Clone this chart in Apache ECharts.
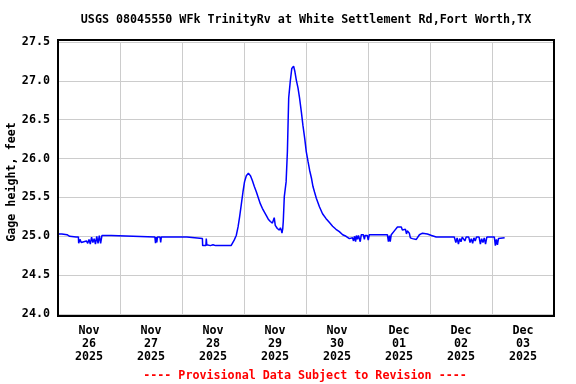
<!DOCTYPE html>
<html>
<head>
<meta charset="utf-8">
<script src="https://cdn.jsdelivr.net/npm/echarts@6/dist/echarts.min.js"></script>
<style>
html,body{margin:0;padding:0;background:#fff;}
#chart{width:576px;height:384px;}
</style>
</head>
<body>
<div id="chart"></div>
<script>
// Hours after 2025-11-26 00:00 (local)
var hours = [
0,1.5,2.0,3.5,4.5,7.0,7.9,8.0,8.5,9.0,9.5,10.0,10.5,11.0,11.5,12.0,12.5,13.0,13.5,14.0,14.5,15.0,15.5,16.0,16.5,17.0,
20.6,20.7,37.5,37.75,38.0,38.25,38.5,39.5,39.75,40.0,49.9,50.0,55.9,56.0,57.25,57.4,57.6,59.0,60.0,61.0,62.5,63.0,64.0,65.5,66.0,67.0,67.6,
68.2,69.0,69.7,70.3,71.0,71.6,72.2,72.9,73.7,74.5,75.2,76.0,76.8,77.5,78.3,79.1,79.9,80.6,81.4,82.2,83.0,83.4,83.7,84.1,84.5,84.9,85.3,85.7,86.1,86.5,86.7,87.0,87.2,
87.6,88.3,88.8,89.3,89.9,90.5,91.2,91.7,92.25,92.9,93.5,94.2,94.8,95.5,96.1,96.8,97.4,98.1,98.7,99.3,100.0,101.2,102.4,103.7,105.0,106.3,107.6,108.9,110.2,111.5,112.8,
113.5,114.0,114.4,114.8,115.2,115.5,115.9,116.3,117.0,117.4,118.2,118.6,118.9,119.7,120.1,120.5,127.5,127.9,128.3,128.6,129.0,130.2,131.4,132.9,133.3,133.7,134.5,134.9,135.2,136.0,136.4,137.2,137.9,138.7,139.1,139.9,141.1,143.0,144.6,146.4,
153.4,154.0,154.5,155.0,155.5,156.0,156.5,157.5,158.0,159.0,159.5,160.0,160.5,161.0,161.5,162.0,163.0,163.5,164.0,164.5,165.0,165.5,166.0,168.9,169.3,169.7,170.1,170.5,172.9
];
var gageFeet = [
25.03,25.03,25.02,25.02,25.00,24.99,24.99,24.91,24.96,24.92,24.90,24.93,24.91,24.94,24.91,24.96,24.90,24.99,24.92,24.97,24.90,25.00,24.91,25.01,24.91,25.01,
25.01,24.99,24.99,24.91,24.99,24.92,24.99,24.99,24.92,24.99,24.99,24.97,24.97,24.88,24.88,24.97,24.89,24.88,24.89,24.88,24.88,24.87,24.88,24.88,24.87,24.88,24.89,
24.95,25.01,25.12,25.25,25.42,25.57,25.70,25.78,25.81,25.78,25.72,25.64,25.57,25.50,25.42,25.36,25.31,25.27,25.22,25.19,25.17,25.21,25.24,25.14,25.16,25.10,25.12,25.08,25.11,25.07,25.04,25.10,25.19,
25.51,25.70,26.09,26.78,26.99,27.16,27.19,27.12,27.01,26.91,26.78,26.60,26.43,26.26,26.09,25.96,25.85,25.75,25.64,25.57,25.49,25.38,25.29,25.23,25.18,25.13,25.09,25.06,25.02,25.00,24.97,
24.95,24.98,24.94,25.00,24.93,25.01,24.96,25.01,24.93,25.02,25.02,24.96,25.01,25.01,24.95,25.02,25.02,24.93,25.01,24.93,25.02,25.07,25.12,25.12,25.08,25.10,25.09,25.03,25.07,25.04,24.98,24.97,24.95,24.96,24.98,25.02,25.04,25.03,25.01,24.99,
24.99,24.92,24.98,24.90,24.97,24.93,24.99,24.94,24.99,24.99,24.92,24.97,24.91,24.98,24.94,24.99,24.99,24.90,24.97,24.92,24.98,24.90,24.99,24.99,24.88,24.96,24.89,24.97,24.98
];
var dayLabels = ['Nov\n26\n2025','Nov\n27\n2025','Nov\n28\n2025','Nov\n29\n2025','Nov\n30\n2025','Dec\n01\n2025','Dec\n02\n2025','Dec\n03\n2025'];
var yTicks = {min: 24.0, max: 27.5, step: 0.5};
var titleText = 'USGS 08045550 WFk TrinityRv at White Settlement Rd,Fort Worth,TX';
var footerText = '---- Provisional Data Subject to Revision ----';
var yName = 'Gage height, feet';

var seriesData = hours.map(function (h, i) { return [h, gageFeet[i]]; });
var font = '"DejaVu Sans Mono", "Liberation Mono", monospace';

var chart = echarts.init(document.getElementById('chart'), null, {renderer: 'canvas'});
chart.setOption({
  animation: false,
  backgroundColor: '#ffffff',
  title: [
    {text: titleText, left: 301, top: 9, textAlign: 'center',
     textStyle: {fontFamily: font, fontSize: 11.7, fontWeight: 'bold', color: '#000'}},
    {text: footerText, left: 300, top: 365, textAlign: 'center',
     textStyle: {fontFamily: font, fontSize: 11.7, fontWeight: 'bold', color: '#ff0000'}}
  ],
  grid: {left: 58, right: 22, top: 42, height: 272, containLabel: false},
  xAxis: [
    {type: 'value', min: 0, max: 192, interval: 24,
     axisLine: {show: false}, axisTick: {show: false}, axisLabel: {show: false},
     splitLine: {show: true, lineStyle: {color: '#cccccc', width: 1}}},
    {type: 'value', min: 0, max: 192, interval: 12, position: 'bottom',
     axisLine: {show: false}, axisTick: {show: false}, splitLine: {show: false},
     axisLabel: {show: true, margin: 10, lineHeight: 13, fontFamily: font, fontSize: 11.7, fontWeight: 'bold', color: '#000',
       formatter: function (v) { return (v % 24 === 12) ? dayLabels[(v - 12) / 24] : ''; }}}
  ],
  yAxis: {type: 'value', min: yTicks.min, max: yTicks.max, interval: yTicks.step,
    axisLine: {show: false}, axisTick: {show: false},
    axisLabel: {margin: 8, fontFamily: font, fontSize: 11.7, fontWeight: 'bold', color: '#000',
      formatter: function (v) { return v.toFixed(1); }},
    splitLine: {show: true, lineStyle: {color: '#cccccc', width: 1}}},
  graphic: [
    {type: 'rect', shape: {x: 58, y: 40, width: 496, height: 276}, z: 100,
     style: {fill: 'none', stroke: '#000', lineWidth: 2}},
    {type: 'text', x: 12, y: 182, rotation: Math.PI / 2, z: 100,
     style: {text: yName, fontFamily: font, fontSize: 11.7, fontWeight: 'bold', fill: '#000', align: 'center', verticalAlign: 'middle'}}
  ],
  series: [{
    type: 'line', xAxisIndex: 0, data: seriesData, showSymbol: false, symbol: 'none',
    lineStyle: {color: '#0000ff', width: 1.5}, clip: true
  }]
});
</script>
</body>
</html>
